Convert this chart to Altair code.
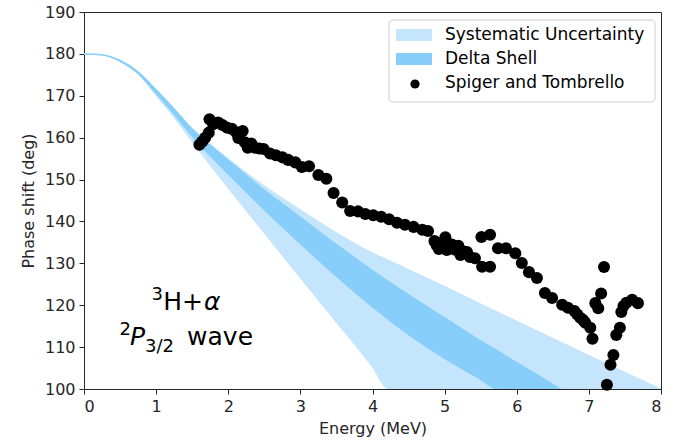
import altair as alt
import pandas as pd

# ---------------- data ----------------
series_names = ["Systematic Uncertainty", "Delta Shell", "Spiger and Tombrello"]

# Systematic uncertainty band (energy grid, upper and lower edge, deg)
sys_x = [0, 0.25, 0.5, 0.75, 1, 1.25, 1.5, 1.75, 2, 2.5, 3, 3.5, 4, 4.22, 4.5, 5, 5.5, 6, 6.5, 7, 7.5, 8]
sys_hi = [180, 179.8, 178.5, 175.8, 171.6, 167.0, 162.3, 158.5, 155.0, 148.5, 142.8, 137.3, 132.5, 130.8,
          128.5, 124.5, 120.3, 116.2, 112.1, 108.0, 104.0, 100.0]
sys_lo = [180, 179.75, 178.2, 175.2, 170.0, 164.8, 159.0, 153.4, 147.9, 137.2, 126.5, 115.9, 105.2, 100.0,
          100, 100, 100, 100, 100, 100, 100, 100]

# Delta shell band
ds_x = [0, 0.25, 0.5, 0.75, 1, 1.25, 1.5, 1.75, 2, 2.5, 3, 3.5, 4, 4.5, 5, 5.5, 5.73, 6, 6.3, 6.6]
ds_hi = [180, 179.8, 178.45, 175.7, 171.4, 166.8, 162.0, 158.2, 154.6, 147.5, 141.0, 134.5, 128.3, 122.5,
         117.0, 111.5, 109.2, 106.3, 103.2, 100.0]
ds_lo = [180, 179.75, 178.25, 175.3, 170.6, 165.6, 160.4, 155.7, 151.3, 142.8, 134.7, 126.9, 119.6, 113.0,
         107.3, 102.3, 100.0, 100, 100, 100]

# Spiger and Tombrello data points
exp_E = [1.60, 1.64, 1.68, 1.73, 1.74, 1.79, 1.86, 1.92, 1.98, 2.05, 2.11, 2.14, 2.20, 2.23, 2.27, 2.32,
         2.37, 2.43, 2.49, 2.58, 2.66, 2.75, 2.83, 2.93, 3.02, 3.12, 3.25, 3.36, 3.46, 3.58, 3.69, 3.80,
         3.90, 4.01, 4.12, 4.23, 4.34, 4.45, 4.57,
         4.69, 4.77, 4.86, 4.89, 4.92, 4.97, 5.01, 5.03, 5.07, 5.10, 5.14, 5.19, 5.22, 5.27, 5.31, 5.35,
         5.42, 5.52, 5.63, 5.51, 5.63, 5.74, 5.85, 5.98, 6.07, 6.17, 6.28,
         6.39, 6.49, 6.63, 6.71, 6.80, 6.84, 6.88, 6.92, 6.95, 7.02, 7.05, 7.09, 7.13, 7.17, 7.21, 7.25,
         7.30, 7.34, 7.38, 7.43, 7.45, 7.48, 7.52, 7.60, 7.68]
exp_phase = [158.3, 159.1, 160.0, 161.2, 164.4, 163.2, 163.6, 163.0, 162.4, 162.1, 161.3, 159.9, 161.6,
             158.9, 157.6, 158.6, 157.6, 157.4, 157.3, 156.2, 155.8, 155.3, 154.7, 154.1, 153.0, 153.2,
             151.1, 150.2, 146.8, 144.5, 142.5, 142.4, 141.8, 141.5, 141.1, 140.5, 139.7, 139.2, 138.7,
             138.0, 137.7, 135.3, 134.3, 133.4, 134.6, 136.2, 133.2, 134.0, 134.5, 133.3, 134.2, 132.0,
             132.8, 132.7, 131.5, 131.2, 129.2, 129.2, 136.3, 136.8, 133.6, 133.6, 132.4, 130.1, 127.9,
             126.5,
             122.9, 121.7, 120.1, 119.4, 118.6, 117.8, 117.0, 116.5, 115.8, 114.6, 112.0, 120.5, 119.3,
             122.8, 129.1, 101.0, 105.8, 108.1, 112.9, 114.6, 118.4, 119.8, 120.6, 121.3, 120.5]

x_ticks = [0, 1, 2, 3, 4, 5, 6, 7, 8]
y_ticks = [100, 110, 120, 130, 140, 150, 160, 170, 180, 190]

LIGHT = "#c4e5fb"
DARK = "#87cefa"
FONT = "DejaVu Sans"
INK = "#262626"

sys_df = pd.DataFrame({"E": sys_x, "hi": sys_hi, "lo": sys_lo})
ds_df = pd.DataFrame({"E": ds_x, "hi": ds_hi, "lo": ds_lo})
exp_df = pd.DataFrame({"E": exp_E, "phase": exp_phase})

W, H = 577, 377

xscale = alt.Scale(domain=[0, 8], nice=False, zero=False)
yscale = alt.Scale(domain=[100, 190], nice=False, zero=False)

axis_common = dict(grid=False, tickSize=5, tickColor=INK, domainColor=INK, labelColor=INK,
                   titleColor=INK, labelFontSize=16, titleFontSize=16, labelFont=FONT,
                   titleFont=FONT, titleFontWeight="normal", tickWidth=1, domainWidth=1,
                   labelPadding=4)

X = alt.X("E:Q", scale=xscale,
          axis=alt.Axis(values=x_ticks, format="d", title="Energy (MeV)", titlePadding=6,
                        **axis_common))
Y_axis = alt.Axis(values=y_ticks, format="d", title="Phase shift (deg)", titlePadding=8,
                  **axis_common)

sys_band = alt.Chart(sys_df).mark_area(color=LIGHT, stroke=LIGHT, strokeWidth=1, opacity=1,
                                       interpolate="monotone", clip=True).encode(
    x=X, y=alt.Y("hi:Q", scale=yscale, axis=Y_axis), y2="lo:Q")

ds_band = alt.Chart(ds_df).mark_area(color=DARK, stroke=DARK, strokeWidth=1.2, opacity=1,
                                     interpolate="monotone", clip=True).encode(
    x=alt.X("E:Q", scale=xscale), y=alt.Y("hi:Q", scale=yscale), y2="lo:Q")

points = alt.Chart(exp_df).mark_circle(color="black", opacity=1, size=145).encode(
    x=alt.X("E:Q", scale=xscale), y=alt.Y("phase:Q", scale=yscale))


def txt(e, p, s, size=25, align="left", italic=False, baseline="alphabetic"):
    d = pd.DataFrame({"E": [e], "phase": [p], "t": [s]})
    kw = dict(fontSize=size, font=FONT, align=align, baseline=baseline, color="black")
    if italic:
        kw["fontStyle"] = "italic"
    return alt.Chart(d).mark_text(**kw).encode(
        x=alt.X("E:Q", scale=xscale), y=alt.Y("phase:Q", scale=yscale), text="t:N")


annot = [
    txt(1.096, 121.3, "3", size=18, align="right"),
    txt(1.650, 118.9, "H+", align="right"),
    txt(1.664, 118.9, "α", italic=True),
    txt(0.652, 112.9, "2", size=18, align="right"),
    txt(0.638, 110.5, "P", italic=True),
    txt(0.846, 108.9, "3/2", size=18),
    txt(1.429, 110.5, "wave"),
]

# ---------------- legend (drawn by hand) ----------------
one = pd.DataFrame({"k": [0]})
leg_box = alt.Chart(one).mark_rect(fill="white", fillOpacity=0.85, stroke="#cccccc",
                                   strokeWidth=1, cornerRadius=4).encode(
    x=alt.value(305), x2=alt.value(571), y=alt.value(8), y2=alt.value(90))
leg_p1 = alt.Chart(one).mark_rect(fill=LIGHT).encode(
    x=alt.value(312), x2=alt.value(348), y=alt.value(17), y2=alt.value(29))
leg_p2 = alt.Chart(one).mark_rect(fill=DARK).encode(
    x=alt.value(312), x2=alt.value(348), y=alt.value(41), y2=alt.value(53))
leg_dot = alt.Chart(one).mark_circle(color="black", opacity=1, size=85).encode(
    x=alt.value(331), y=alt.value(72))
leg_txt = []
for i, name in enumerate(series_names):
    leg_txt.append(alt.Chart(pd.DataFrame({"t": [name]})).mark_text(
        fontSize=17, font=FONT, align="left", baseline="middle", color="black").encode(
        text="t:N", x=alt.value(361), y=alt.value(23 + 24 * i)))

chart = alt.layer(sys_band, ds_band, points, *annot, leg_box, leg_p1, leg_p2, leg_dot,
                  *leg_txt).properties(
    width=W, height=H,
    autosize=alt.AutoSizeParams(type="none"),
    padding={"left": 84, "top": 12, "right": 28, "bottom": 55},
    background="white",
).configure_view(stroke=INK, strokeWidth=1)

chart.save("out.html", embed_options={"renderer": "svg", "actions": False})
